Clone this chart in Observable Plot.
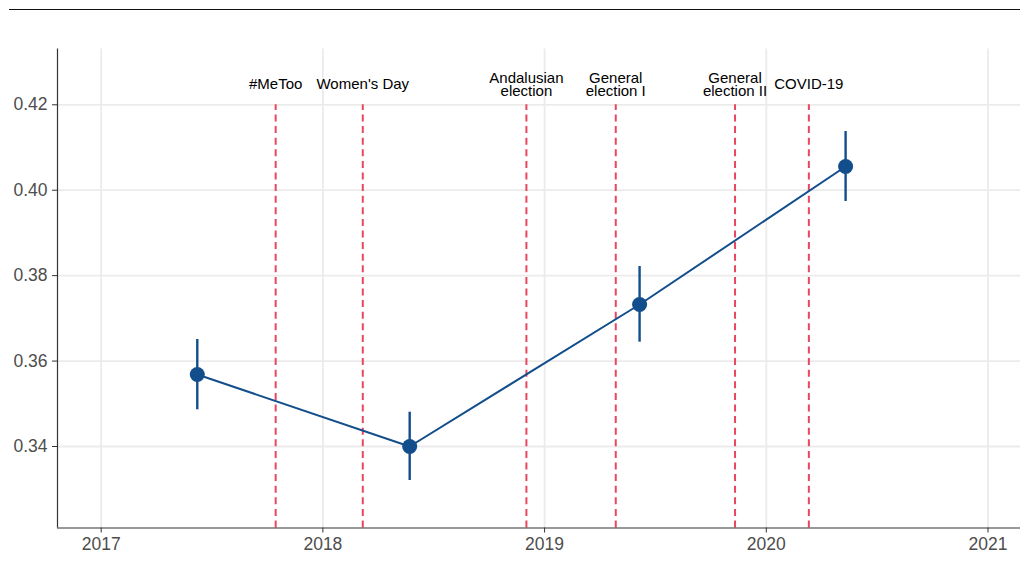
<!DOCTYPE html>
<html>
<head>
<meta charset="utf-8">
<script src="https://cdn.jsdelivr.net/npm/d3@7"></script>
<script src="https://cdn.jsdelivr.net/npm/@observablehq/plot@0.6"></script>
<style>
  html, body { margin: 0; padding: 0; background: #fff; }
  #wrap { position: relative; width: 1020px; height: 573px; }
  #topline { position: absolute; left: 9px; right: 0; top: 8.5px; height: 1.5px; background: #111; }
  #chart { position: absolute; left: 0; top: 0; }
</style>
</head>
<body>
<div id="wrap">
  <div id="chart"></div>
  <div id="topline"></div>
</div>
<script>
// Estimates (time in decimal years)
const periods = [2017.4335, 2018.3915, 2019.4285, 2020.3577];
const estimates = [0.35686, 0.34000, 0.37324, 0.40555];
const lower = [0.34859, 0.33204, 0.36442, 0.39736];
const upper = [0.36505, 0.34803, 0.38214, 0.41374];

// Events
const eventLabels = ["#MeToo", "Women's Day", "Andalusian\nelection", "General\nelection I", "General\nelection II", "COVID-19"];
const eventDates = [2017.787, 2018.180, 2018.918, 2019.321, 2019.859, 2020.192];

// Axis ticks
const xTicks = [2017, 2018, 2019, 2020, 2021];
const yTicks = [0.34, 0.36, 0.38, 0.40, 0.42];

const xDomain = [2016.803, 2021.1466];
const yDomain = [0.32092, 0.43306];
const eventTop = 0.42;
const labelY = 0.42459;

const points = periods.map((p, i) => ({x: p, y: estimates[i], lo: lower[i], hi: upper[i]}));
const events = eventDates.map((d, i) => ({x: d, label: eventLabels[i]}));

const blue = "#124e8c";
const red = "#e8475f";

const chart = Plot.plot({
  width: 1020,
  height: 573,
  marginTop: 48.5,
  marginBottom: 45.5,
  marginLeft: 57,
  marginRight: 0,
  style: {fontFamily: "'Liberation Sans', Arial, sans-serif", fontSize: "17.5px", color: "#4d4d4d", background: "transparent"},
  x: {domain: xDomain, label: null},
  y: {domain: yDomain, label: null},
  marks: [
    Plot.gridX(xTicks, {stroke: "#ebebeb", strokeOpacity: 1, strokeWidth: 1.8}),
    Plot.gridY(yTicks, {stroke: "#ebebeb", strokeOpacity: 1, strokeWidth: 1.8}),
    Plot.ruleX(events, {x: "x", y1: yDomain[0], y2: eventTop, stroke: red, strokeWidth: 2, strokeDasharray: "7,4.6"}),
    Plot.text(events, {x: "x", y: labelY, text: "label", fill: "#000", fontSize: 15, lineHeight: 0.84, textAnchor: "middle", lineAnchor: "middle"}),
    Plot.line(points, {x: "x", y: "y", stroke: blue, strokeWidth: 2}),
    Plot.ruleX(points, {x: "x", y1: "lo", y2: "hi", stroke: blue, strokeWidth: 2.4}),
    Plot.dot(points, {x: "x", y: "y", r: 7.5, fill: blue, stroke: "none"}),
    Plot.axisX(xTicks, {tickFormat: "d", tickSize: 5, tickPadding: 5, stroke: "#333", fill: "#4d4d4d", label: null}),
    Plot.axisY(yTicks, {tickFormat: ".2f", tickSize: 5, tickPadding: 5, stroke: "#333", fill: "#4d4d4d", label: null}),
    Plot.ruleX([xDomain[0]], {stroke: "#333", strokeWidth: 1.2}),
    Plot.ruleY([yDomain[0]], {stroke: "#333", strokeWidth: 1.2})
  ]
});
document.getElementById("chart").appendChild(chart);
</script>
</body>
</html>
